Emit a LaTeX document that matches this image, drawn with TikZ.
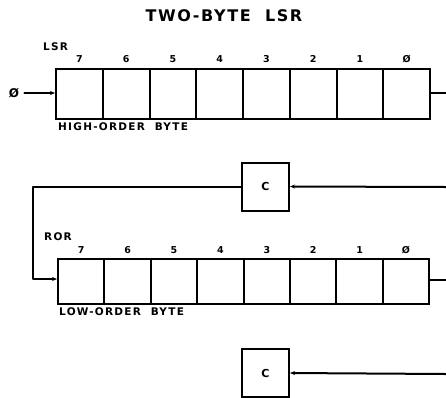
\documentclass[tikz,border=0pt]{standalone}
\usepackage{fontspec}
\newfontfamily\hand[LetterSpace=10]{DejaVu Sans}
\newfontfamily\handw[LetterSpace=12]{DejaVu Sans}
\usetikzlibrary{arrows.meta,calc}
\begin{document}
\begin{tikzpicture}[x=1pt,y=-1pt,
  ln/.style={line width=2pt,line cap=round,line join=round},
  tip/.style={ln,-{Stealth[length=5pt,width=4pt]}},
  cellA/.style={draw,line width=2pt,minimum width=46.75pt,minimum height=50pt,inner sep=0pt,anchor=north west},
  cellB/.style={draw,line width=2pt,minimum width=46.4pt,minimum height=45pt,inner sep=0pt,anchor=north west},
  cbox/.style={draw,line width=2pt,minimum width=47pt,minimum height=48pt,inner sep=0pt,font=\hand\bfseries\fontsize{11}{11}\selectfont},
  ttl/.style={font=\hand\bfseries\fontsize{16}{16}\selectfont,inner sep=0pt},
  lbl/.style={font=\handw\bfseries\fontsize{10.5}{10.5}\selectfont,inner sep=0pt},
  num/.style={font=\hand\bfseries\fontsize{9.5}{9.5}\selectfont,inner sep=0pt}]
\useasboundingbox (0,0) rectangle (446,397);
\node[ttl] (title) at (224,16) {TWO-BYTE\ \ LSR};
% top register
\foreach \i [count=\k from 0] in {7,6,5,4,3,2,1,0} {
  \node[cellA] (h\i) at (55+\k*46.75,68) {};
}
\foreach \i/\t in {7/7,6/6,5/5,4/4,3/3,2/2,1/1,0/Ø} {
  \node[num] (hn\i) at ($(h\i.north)+(0,-9)$) {\t};
}
\node[lbl,anchor=west] (lsr) at (43,47) {LSR};
\node[lbl,anchor=west] (hob) at (58,127) {HIGH-ORDER\ \ BYTE};
\node[font=\hand\bfseries\fontsize{12}{12}\selectfont,inner sep=0pt] (in) at (14,93) {Ø};
\draw[tip] ($(in.east)+(5,0)$) -- (h7.west |- 0,93);
\coordinate (outA) at (446,93);
\draw[ln] (h0.east |- 0,93) -- (outA);
% carry box 1
\node[cbox] (c1) at (265.5,186.5) {C};
\coordinate (inC1) at (446,187);
\draw[tip] (inC1) -- (c1.east);
% second register
\foreach \i [count=\k from 0] in {7,6,5,4,3,2,1,0} {
  \node[cellB] (l\i) at (57+\k*46.4,258) {};
}
\foreach \i/\t in {7/7,6/6,5/5,4/4,3/3,2/2,1/1,0/Ø} {
  \node[num] (ln\i) at ($(l\i.north)+(0,-8)$) {\t};
}
\node[lbl,anchor=west] (ror) at (44,237) {ROR};
\node[lbl,anchor=west] (lob) at (59,312) {LOW-ORDER\ \ BYTE};
\draw[tip] (c1.west) -| (33,279) -- (l7.west |- 0,279);
\coordinate (outB) at (446,280);
\draw[ln] (l0.east |- 0,280) -- (outB);
% carry box 2
\node[cbox] (c2) at (265.5,373) {C};
\coordinate (inC2) at (446,374);
\draw[tip] (inC2) -- (c2.east);
\end{tikzpicture}
\end{document}
